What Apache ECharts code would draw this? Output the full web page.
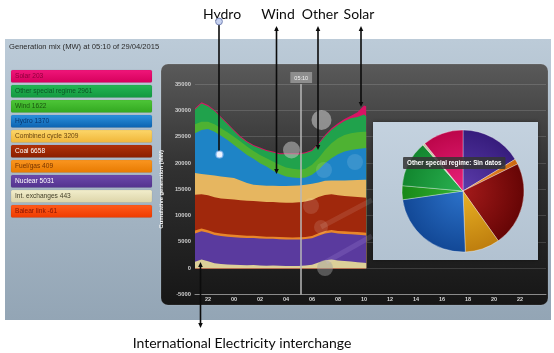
<!DOCTYPE html>
<html>
<head>
<meta charset="utf-8">
<style>
html,body{margin:0;padding:0;background:#ffffff;}
#chart{width:554px;height:353px;}
</style>
<script src="https://cdn.jsdelivr.net/npm/echarts@6/dist/echarts.min.js"></script>
</head>
<body>
<div id="chart"></div>
<script>
// Half-hourly generation mix (MW), evening of 28/04 to morning of 29/04/2015
const times = ['21:00','21:30','22:00','22:30','23:00','23:30','00:00','00:30','01:00','01:30',
               '02:00','02:30','03:00','03:30','04:00','04:30','05:00','05:10','05:30','06:00',
               '06:30','07:00','07:30','08:00','08:30','09:00','09:30','10:00','10:10'];
const currentTime = '05:10';

const intExchanges = [1200,1650,1300,950,800,700,650,600,550,600, 520,480,500,450,420,400,430,443,500,650, 1100,1500,1650,1450,1350,1250,1150,1050,1000];
const nuclear      = [5400,5380,5420,5350,5300,5280,5250,5200,5180,5150, 5120,5100,5080,5060,5050,5040,5035,5031,5040,5060, 5080,5100,5120,5150,5160,5180,5200,5210,5220];
const fuelGas      = [550,520,500,480,470,460,450,440,430,420, 420,415,410,410,405,405,408,409,410,420, 440,460,480,490,500,500,510,510,510];
const coal         = [6810,6500,6650,6700,6680,6700,6690,6660,6640,6600, 6620,6600,6580,6570,6560,6600,6640,6658,6700,6850, 6900,6850,6800,6760,6720,6700,6680,6660,6650];
const combinedCycle= [4110,3850,3880,4120,4170,4130,4080,3750,3370,3080, 3080,3085,3080,3130,3165,3205,3200,3209,3200,3070, 2780,2690,2590,2800,2940,3070,3210,3370,3440];
const hydro        = [7570,8370,8710,8350,7770,7110,6310,5830,5360,4930, 4200,3640,2850,2260,1820,1590,1430,1370,1390,1700, 2390,3360,4270,5020,5490,5780,5920,6000,6030];
const wind         = [1710,1570,1380,1400,1400,1450,1570,1570,1580,1510, 1570,1590,1770,1760,1710,1640,1600,1622,1640,1890, 2220,2520,2840,3030,3160,3160,3160,3150,3100];
const otherSpecial = [2810,3450,2950,2510,1990,1510,1065,800,800,935, 1190,1360,1690,2005,2520,2765,2877,2961,2965,2630, 2620,2600,2560,2520,2650,2840,2890,3250,2900];
const solar        = [220,230,210,200,210,200,205,210,200,205, 200,210,200,205,200,205,203,203,205,210, 220,240,280,320,380,500,900,1700,1900];
const balearLink   = [-70,-65,-60,-55,-60,-65,-60,-58,-62,-60, -64,-60,-58,-62,-60,-61,-60,-61,-63,-65, -70,-72,-68,-66,-64,-62,-60,-60,-60];

// Pie breakdown (% of total) shown in the hover panel
const pieNames  = ['Nuclear','Fuel/gas','Coal','Combined cycle','Hydro','Wind','Other special regime','Int. exchanges','Solar'];
const pieShares = [16.3, 1.4, 22.5, 9.2, 23.3, 3.7, 12.2, 0.6, 10.8];

// y-axis ticks
const yTicks = [-5000, 0, 5000, 10000, 15000, 20000, 25000, 30000, 35000];

const FONT = 'Liberation Sans, Arial, sans-serif';
const toHours = t => { const p = t.split(':').map(Number); let v = p[0] + p[1] / 60; if (v < 21) v += 24; return v; };
const xs = times.map(toHours);
const pairs = arr => arr.map((v, i) => [xs[i], v]);
const nowIdx = times.indexOf(currentTime);
const nowHour = toHours(currentTime);

// positive layers, bottom to top
const layers = [
  {name:'Int. exchanges', data:intExchanges, color:'#ddd098'},
  {name:'Nuclear', data:nuclear, color:'#5a3a9e'},
  {name:'Fuel/gas', data:fuelGas, color:'#e8862a'},
  {name:'Coal', data:coal, color:'#a0280c'},
  {name:'Combined cycle', data:combinedCycle, color:'#e6b660'},
  {name:'Hydro', data:hydro, color:'#1e84c6'},
  {name:'Wind', data:wind, color:'#4eb232'},
  {name:'Other special regime', data:otherSpecial, color:'#20a24c'},
  {name:'Solar', data:solar, color:'#d81464'}
];

// running totals: each layer is filled from zero up to its cumulative value,
// and lower layers are painted over higher ones, which gives the stacked look
const cumulative = [];
layers.forEach((l, k) => {
  cumulative.push(l.data.map((v, i) => v + (k ? cumulative[k - 1][i] : 0)));
});

// side legend, top to bottom
const legendRows = [
  {name:'Solar', data:solar, c1:'#f0167a', c2:'#d6005c', text:'#8e003c'},
  {name:'Other special regime', data:otherSpecial, c1:'#24b654', c2:'#129840', text:'#0a5524'},
  {name:'Wind', data:wind, c1:'#4ec638', c2:'#32a820', text:'#1a5410'},
  {name:'Hydro', data:hydro, c1:'#2c92de', c2:'#0b62b0', text:'#07356e'},
  {name:'Combined cycle', data:combinedCycle, c1:'#fcd66a', c2:'#f0b638', text:'#6a4610'},
  {name:'Coal', data:coal, c1:'#b23208', c2:'#8a1e00', text:'#ffffff'},
  {name:'Fuel/gas', data:fuelGas, c1:'#fa9620', c2:'#e87a00', text:'#763400'},
  {name:'Nuclear', data:nuclear, c1:'#6c4aac', c2:'#53338e', text:'#ffffff'},
  {name:'Int. exchanges', data:intExchanges, c1:'#f2eecc', c2:'#dcd4a8', text:'#45412a'},
  {name:'Balear link', data:balearLink, c1:'#ff5c1c', c2:'#ee3a00', text:'#861200'}
];

const pieColors = [
  ['#5c3cab','#361c7c'], ['#f29432','#cc6810'], ['#a41a1a','#660505'], ['#eab224','#be7e0e'],
  ['#2c72ca','#124896'], ['#34b434','#188818'], ['#2ab252','#12862e'], ['#ebe3c4','#c6be9e'], ['#ea227c','#bc064a']
];

const LG = (a, b) => new echarts.graphic.LinearGradient(0, 0, 0, 1, [{offset:0,color:a},{offset:1,color:b}]);

const chart = echarts.init(document.getElementById('chart'), null, {renderer:'canvas', width:554, height:353});

const series = [];
for (let k = layers.length - 1; k >= 0; k--) {
  series.push({
    name: layers[k].name,
    type: 'line',
    data: pairs(cumulative[k]),
    showSymbol: false,
    symbol: 'none',
    lineStyle: {width: 0},
    areaStyle: {color: layers[k].color, opacity: 1, origin: 0},
    z: 2,
    silent: true
  });
}
series.push({
  name: 'Balear link',
  type: 'line',
  data: pairs(balearLink),
  showSymbol: false,
  symbol: 'none',
  lineStyle: {width: 0},
  areaStyle: {color: '#ff4a10', opacity: 1, origin: 0},
  z: 2,
  silent: true
});

// current-time cursor
series[0].markLine = {
  silent: true,
  symbol: ['none','none'],
  data: [{xAxis: nowHour}],
  lineStyle: {color:'#b8b8b8', width:1.5, type:'solid'},
  label: {show:true, position:'end', formatter: currentTime, distance: 1,
          backgroundColor:'#8e8e8e', color:'#f4f4f4', fontSize:5.5, fontFamily:FONT,
          padding:[3,4,2,4]}
};

series.push({
  type: 'pie',
  center: [463, 191],
  radius: 61,
  startAngle: 90,
  clockwise: true,
  silent: true,
  z: 20,
  label: {show:false},
  labelLine: {show:false},
  itemStyle: {borderColor:'rgba(255,255,255,0.55)', borderWidth:0.6},
  data: pieNames.map((n, i) => ({
    name: n, value: pieShares[i],
    itemStyle: {color: new echarts.graphic.RadialGradient(463, 191, 61,
      [{offset:0,color:pieColors[i][0]},{offset:1,color:pieColors[i][1]}], true)}
  }))
});

const graphics = [];
// outer panel and dark plot panel
graphics.push({type:'rect', z:-20, shape:{x:5,y:39,width:546,height:281}, style:{fill:LG('#bccbd8','#93a5b5')}});
graphics.push({type:'text', z:-19, x:9, y:47, style:{text:'Generation mix (MW) at ' + currentTime + ' of 29/04/2015',
  fill:'#2a2a2a', font:'7.6px ' + FONT, textVerticalAlign:'middle'}});
graphics.push({type:'rect', z:-18, shape:{x:161,y:64,width:387,height:241,r:7},
  style:{fill:new echarts.graphic.LinearGradient(0,0,0,1,[{offset:0,color:'#5a5a5a'},{offset:0.45,color:'#303030'},{offset:1,color:'#161616'}]),
         stroke:'rgba(255,255,255,0.12)', lineWidth:1}});

// side legend boxes
legendRows.forEach((r, i) => {
  const y = 70 + 15 * i;
  graphics.push({type:'rect', z:-17, shape:{x:11,y:y,width:141,height:12.5,r:1.5},
    style:{fill:LG(r.c1, r.c2), stroke:'rgba(0,0,0,0.12)', lineWidth:0.5}});
  graphics.push({type:'text', z:-16, x:15, y:y + 6.6, style:{text: r.name + ' ' + r.data[nowIdx],
    fill:r.text, font:'6.6px ' + FONT, textVerticalAlign:'middle'}});
});

// translucent hover markers over the plot
[[321.5,120,10,'rgba(195,195,195,0.6)'],[291.5,150,8.5,'rgba(195,195,195,0.55)'],[325,268,8,'rgba(160,160,160,0.45)'],
 [311,206,8,'rgba(255,255,255,0.12)'],[321,227,7,'rgba(255,255,255,0.12)'],[324,170,8,'rgba(255,255,255,0.12)'],
 [355,162,8,'rgba(255,255,255,0.12)']].forEach(c => {
  graphics.push({type:'circle', z:12, shape:{cx:c[0],cy:c[1],r:c[2]}, style:{fill:c[3]}});
});
graphics.push({type:'line', z:12, shape:{x1:321,y1:227,x2:372,y2:200}, style:{stroke:'rgba(255,255,255,0.1)', lineWidth:5}});
graphics.push({type:'line', z:12, shape:{x1:326,y1:262,x2:372,y2:236}, style:{stroke:'rgba(210,190,255,0.14)', lineWidth:5}});

// hover panel with pie and tooltip
graphics.push({type:'rect', z:15, shape:{x:373,y:122,width:165,height:138},
  style:{fill:LG('#c4d2df','#b2c2d1'), shadowBlur:4, shadowColor:'rgba(0,0,0,0.4)'}});
graphics.push({type:'text', z:30, x:403, y:157, style:{text:'Other special regime: Sin datos', fill:'#ffffff',
  font:'bold 6.3px ' + FONT, backgroundColor:'rgba(52,52,52,0.86)', padding:[3,4,3,4], borderRadius:1}});

// callouts
const ink = '#0c0c0c';
const callFont = '14px Lato, sans-serif';
[['Hydro',222],['Wind',278],['Other',320],['Solar',359]].forEach(a => {
  graphics.push({type:'text', z:50, x:a[1], y:14, style:{text:a[0], fill:ink, font:callFont, textAlign:'center', textVerticalAlign:'middle'}});
});
graphics.push({type:'text', z:50, x:242, y:343, style:{text:'International Electricity interchange', fill:ink, font:callFont, textAlign:'center', textVerticalAlign:'middle'}});

const vline = (x, y1, y2) => graphics.push({type:'line', z:50, shape:{x1:x,y1:y1,x2:x,y2:y2}, style:{stroke:ink, lineWidth:1.6}});
const headUp = (x, y) => graphics.push({type:'polygon', z:50, shape:{points:[[x,y],[x-2.3,y+5],[x+2.3,y+5]]}, style:{fill:ink}});
const headDown = (x, y) => graphics.push({type:'polygon', z:50, shape:{points:[[x,y],[x-2.3,y-5],[x+2.3,y-5]]}, style:{fill:ink}});

vline(219, 24, 151);
graphics.push({type:'circle', z:51, shape:{cx:219,cy:21.5,r:3.4}, style:{fill:'#c6d1ef', stroke:'#7886b6', lineWidth:1}});
graphics.push({type:'circle', z:51, shape:{cx:219.5,cy:154.5,r:3.5}, style:{fill:'#eef4ff', stroke:'#86b6ec', lineWidth:1.2}});
vline(276.5, 28, 171); headUp(276.5, 26); headDown(276.5, 174);
vline(318, 28, 147); headUp(318, 26); headDown(318, 150);
vline(361, 28, 104); headUp(361, 26); headDown(361, 107);
vline(200.5, 265, 325); headUp(200.5, 262); headDown(200.5, 328);

chart.setOption({
  animation: false,
  backgroundColor: 'transparent',
  textStyle: {fontFamily: FONT},
  grid: {left:195, top:84, width:351, height:210.5, containLabel:false},
  xAxis: {
    type: 'value', min: 21, max: 48, interval: 1,
    axisLine: {show:true, onZero:false, lineStyle:{color:'#8a8a8a', width:1}},
    axisTick: {show:false},
    splitLine: {show:false},
    axisLabel: {color:'#d8d8d8', fontSize:5.5, fontWeight:'bold', margin:2, fontFamily:FONT,
      formatter: v => (v % 2 === 0 && v < 47) ? String(v % 24).padStart(2,'0') : ''}
  },
  yAxis: {
    type: 'value', min: yTicks[0], max: yTicks[yTicks.length-1], interval: yTicks[1] - yTicks[0],
    name: 'Cumulative generation (MW)', nameLocation: 'middle', nameGap: 27, nameRotate: 90,
    nameTextStyle: {color:'#f2f2f2', fontSize:5.8, fontWeight:'bold', fontFamily:FONT},
    axisLine: {show:false}, axisTick: {show:false},
    splitLine: {show:true, lineStyle:{color:'rgba(255,255,255,0.14)', width:1}},
    axisLabel: {color:'#cfcfcf', fontSize:5.8, fontWeight:'bold', margin:4, fontFamily:FONT,
      formatter: v => String(v)}
  },
  series: series,
  graphic: {elements: graphics}
});
</script>
</body>
</html>
